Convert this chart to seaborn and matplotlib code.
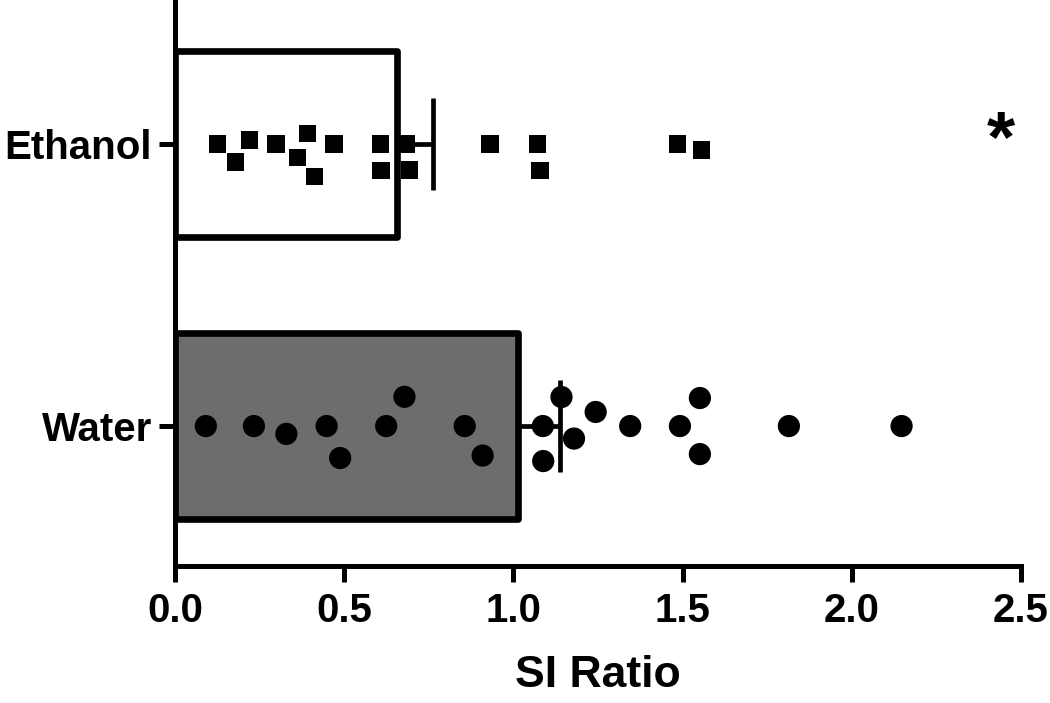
import numpy as np
import pandas as pd
import seaborn as sns
import matplotlib.pyplot as plt

# Values
groups = ['Ethanol', 'Water']
ethanol = [0.125, 0.179, 0.220, 0.298, 0.361, 0.391, 0.412, 0.470, 0.607,
           0.609, 0.683, 0.692, 0.931, 1.079, 1.071, 1.484, 1.556]
water = [0.091, 0.233, 0.329, 0.448, 0.488, 0.624, 0.678, 0.856, 0.909,
         1.087, 1.088, 1.142, 1.179, 1.243, 1.345, 1.492, 1.551, 1.551,
         1.814, 2.147]
bar_colors = ['white', '#6d6d6d']
x_ticks = [0.0, 0.5, 1.0, 1.5, 2.0, 2.5]

df = pd.DataFrame({
    'group': ['Ethanol'] * len(ethanol) + ['Water'] * len(water),
    'ratio': ethanol + water,
})

sns.set_style('ticks')
plt.rcParams['font.family'] = ['Liberation Sans', 'DejaVu Sans']
plt.rcParams['font.weight'] = 'bold'

fig = plt.figure(figsize=(10.5, 7.03), dpi=100)
ax = fig.add_axes([0.1667, 0.195, 0.8057, 0.805])

# Mean bars
sns.barplot(data=df, x='ratio', y='group', order=groups, hue='group',
            palette=bar_colors, errorbar=None, width=0.66, orient='h',
            edgecolor='black', linewidth=4.8, legend=False, ax=ax)
for p in ax.patches:
    p.set_joinstyle('round')

# Individual points (invisible edge widens the swarm spacing)
sns.swarmplot(data=df[df.group == 'Ethanol'], x='ratio', y='group', order=groups,
              color='black', marker='s', size=12.5, orient='h', ax=ax,
              linewidth=5.5, edgecolor='none', zorder=4)
sns.swarmplot(data=df[df.group == 'Water'], x='ratio', y='group', order=groups,
              color='black', marker='o', size=16, orient='h', ax=ax,
              linewidth=8, edgecolor='none', zorder=4)

# One-sided SEM error bars
stats = df.groupby('group')['ratio'].agg(['mean', 'sem']).reindex(groups)
for i, g in enumerate(groups):
    m, s = stats.loc[g, 'mean'], stats.loc[g, 'sem']
    ax.errorbar(m, i, xerr=[[0], [s]], fmt='none', ecolor='black',
                elinewidth=3.4, capsize=33, capthick=3.4, zorder=3)

# Significance mark
ax.text(2.44, 0.06, '*', ha='center', va='baseline', fontsize=52,
        fontweight='bold', color='black')

ax.set_xlim(0, 2.5)
ax.set_ylim(1.496, -0.511)
ax.set_xticks(x_ticks)
ax.set_xticklabels([f'{t:.1f}' for t in x_ticks])
ax.set_xlabel('SI Ratio', fontsize=32, fontweight='bold', labelpad=18,
              color='black')
ax.set_ylabel('')

sns.despine(ax=ax)
for side in ['left', 'bottom']:
    ax.spines[side].set_linewidth(3.6)
    ax.spines[side].set_color('black')
ax.tick_params(axis='both', width=3.6, length=11.5, color='black',
               labelsize=29, labelcolor='black')
ax.tick_params(axis='x', pad=7)
ax.tick_params(axis='y', pad=5)
for lab in ax.get_xticklabels() + ax.get_yticklabels():
    lab.set_fontweight('bold')

fig.savefig('out.png', dpi=100)
